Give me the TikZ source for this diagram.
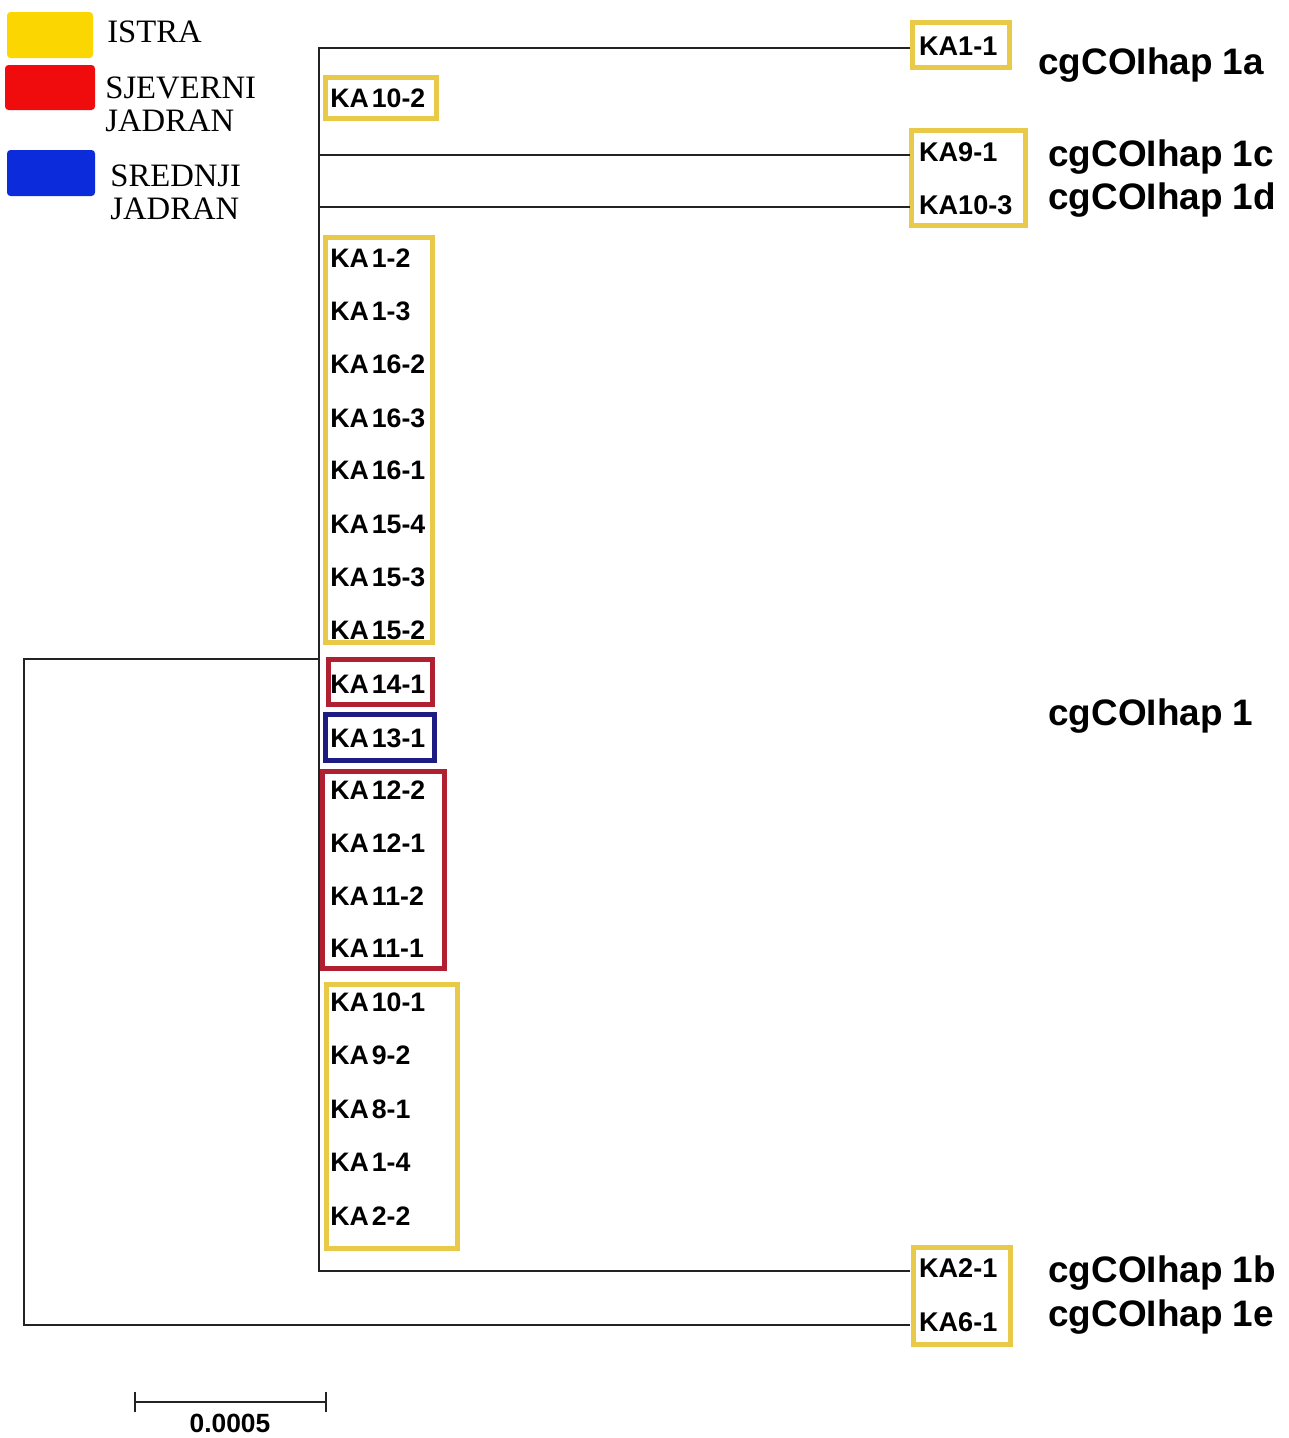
\documentclass[tikz,border=0pt]{standalone}
\usepackage{fontspec}
\setmainfont{Liberation Sans}
\newfontfamily\legendfont{Liberation Serif}
\newfontfamily\leaffont[WordSpace=0.4]{Liberation Sans}
\definecolor{istra}{RGB}{252,214,0}
\definecolor{istrabox}{RGB}{232,202,72}
\definecolor{sjev}{RGB}{240,12,12}
\definecolor{sjevbox}{RGB}{176,32,48}
\definecolor{sred}{RGB}{12,44,220}
\definecolor{sredbox}{RGB}{28,28,130}
\definecolor{treeline}{RGB}{35,35,35}
\begin{document}
\begin{tikzpicture}[x=0.02cm,y=-0.02cm,
  branch/.style={line width=1.3pt,draw=treeline},
  leaf/.style={anchor=west,inner sep=0pt,font=\leaffont\bfseries\fontsize{15.2}{15.2}\selectfont},
  rleaf/.style={anchor=west,inner ysep=0pt,inner xsep=5pt,font=\bfseries\fontsize{15.4}{15.4}\selectfont},
  hap/.style={anchor=west,inner sep=0pt,font=\bfseries\fontsize{21}{21}\selectfont},
  legtxt/.style={anchor=west,inner sep=0pt,align=left,font=\legendfont\fontsize{18.6}{18.8}\selectfont},
  ybox/.style={draw=istrabox,line width=2.8pt},
  rbox/.style={draw=sjevbox,line width=2.8pt},
  bbox/.style={draw=sredbox,line width=2.8pt}]
\useasboundingbox (0,0) rectangle (1289,1438);

% legend
\fill[istra,rounded corners=2pt] (7,12) rectangle (93,58);
\fill[sjev,rounded corners=2pt] (5,65) rectangle (95,110);
\fill[sred,rounded corners=2pt] (7,150) rectangle (95,196);
\node[legtxt] (istra) at (107,32) {ISTRA};
\node[legtxt] (sjevjad) at (105,104) {SJEVERNI\\JADRAN};
\node[legtxt] (sredjad) at (110,192) {SREDNJI\\JADRAN};

% group boxes
\draw[ybox] (325.5,77.5) rectangle (436.5,118.5);
\draw[ybox] (325.5,237.5) rectangle (432.5,642.5);
\draw[rbox] (328.5,659.5) rectangle (432.5,704.5);
\draw[bbox] (325.5,714.5) rectangle (434.5,760.5);
\draw[rbox] (322.5,771.5) rectangle (444.5,968.5);
\draw[ybox] (326.5,984.5) rectangle (457.5,1248.5);
\draw[ybox] (912.5,22.5) rectangle (1009.5,67.5);
\draw[ybox] (911.5,130.5) rectangle (1025.5,225.5);
\draw[ybox] (913.5,1247.5) rectangle (1010.5,1344.5);

% leaves on the main clade
\node[leaf] (ka10-2) at (330,98) {KA 10-2};
\node[leaf] (ka1-2) at (330,258) {KA 1-2};
\node[leaf] (ka1-3) at (330,311) {KA 1-3};
\node[leaf] (ka16-2) at (330,364) {KA 16-2};
\node[leaf] (ka16-3) at (330,418) {KA 16-3};
\node[leaf] (ka16-1) at (330,470) {KA 16-1};
\node[leaf] (ka15-4) at (330,524) {KA 15-4};
\node[leaf] (ka15-3) at (330,577) {KA 15-3};
\node[leaf] (ka15-2) at (330,630) {KA 15-2};
\node[leaf] (ka14-1) at (330,684) {KA 14-1};
\node[leaf] (ka13-1) at (330,738) {KA 13-1};
\node[leaf] (ka12-2) at (330,790) {KA 12-2};
\node[leaf] (ka12-1) at (330,843) {KA 12-1};
\node[leaf] (ka11-2) at (330,896) {KA 11-2};
\node[leaf] (ka11-1) at (330,948) {KA 11-1};
\node[leaf] (ka10-1) at (330,1002) {KA 10-1};
\node[leaf] (ka9-2) at (330,1055) {KA 9-2};
\node[leaf] (ka8-1) at (330,1109) {KA 8-1};
\node[leaf] (ka1-4) at (330,1162) {KA 1-4};
\node[leaf] (ka2-2) at (330,1216) {KA 2-2};

% leaves on long branches
\node[rleaf] (ka1-1) at (910,46) {KA1-1};
\node[rleaf] (ka9-1) at (910,152) {KA9-1};
\node[rleaf] (ka10-3) at (910,205) {KA10-3};
\node[rleaf] (ka2-1) at (910,1268) {KA2-1};
\node[rleaf] (ka6-1) at (910,1322) {KA6-1};

% haplotypes
\node[hap] (h1a) at (1038,65) {cgCOIhap 1a};
\node[hap] (h1c) at (1048,157) {cgCOIhap 1c};
\node[hap] (h1d) at (1048,200) {cgCOIhap 1d};
\node[hap] (h1) at (1048,716) {cgCOIhap 1};
\node[hap] (h1b) at (1048,1273) {cgCOIhap 1b};
\node[hap] (h1e) at (1048,1317) {cgCOIhap 1e};

% tree
\coordinate (top) at (319,48);
\coordinate (bot) at (319,1271);
\coordinate (hub) at (319,659);
\coordinate (root) at (24,659);
\coordinate (rootb) at (24,1325);
\draw[branch] (ka1-1.west |- top) -- (top) -- (bot) -- (ka2-1.west |- bot);
\draw[branch] (ka9-1.west |- 0,155) -- (top |- 0,155);
\draw[branch] (ka10-3.west |- 0,207) -- (top |- 0,207);
\draw[branch] (hub) -- (root) -- (rootb) -- (ka6-1.west |- rootb);

% scale bar
\coordinate (sb1) at (135,1402);
\coordinate (sb2) at (326,1402);
\draw[branch] (sb1) -- (sb2);
\draw[branch] ([yshift=-10*0.02cm]sb1) -- ([yshift=10*0.02cm]sb1);
\draw[branch] ([yshift=-10*0.02cm]sb2) -- ([yshift=10*0.02cm]sb2);
\node[font=\bfseries\fontsize{15}{15}\selectfont,inner sep=0pt] (scale) at (230,1423) {0.0005};
\end{tikzpicture}
\end{document}
